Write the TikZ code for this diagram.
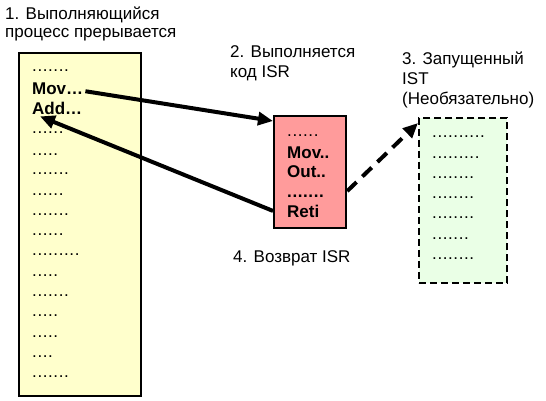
\documentclass[tikz,border=0pt]{standalone}
\usepackage{fontspec}
\setmainfont{Liberation Sans}
\newfontfamily\dotfont[LetterSpace=3.5]{Liberation Sans}
\usetikzlibrary{arrows.meta}
\definecolor{progfill}{RGB}{255,255,204}
\definecolor{isrfill}{RGB}{255,155,155}
\definecolor{istfill}{RGB}{234,255,230}
\begin{document}
\begin{tikzpicture}[x=1pt,y=-1pt,
  lbl/.style={anchor=base west, inner sep=0pt, font=\fontsize{17}{20}\selectfont},
  code/.style={anchor=base west, inner sep=0pt, font=\fontsize{17}{20}\selectfont\bfseries},
  dotrow/.style={anchor=base west, inner sep=0pt, font=\fontsize{17}{20}\selectfont\dotfont},
  bdotrow/.style={anchor=base west, inner sep=0pt, font=\fontsize{17}{20}\selectfont\dotfont\bfseries},
  box/.style={draw, anchor=north west, inner sep=0pt, line width=2.2pt},
  arr/.style={line width=4pt, -{Triangle[length=15pt,width=13pt]}}]
\useasboundingbox (0,0) rectangle (546,401);

% labels
\node[lbl] (l1a) at (5,20) {1. Выполняющийся};
\node[lbl] (l1b) at (5,38) {процесс прерывается};
\node[lbl] (l2a) at (230,58) {2. Выполняется};
\node[lbl] (l2b) at (230,78) {код ISR};
\node[lbl] (l3a) at (402,65) {3. Запущенный};
\node[lbl] (l3b) at (402,85) {IST};
\node[lbl] (l3c) at (402,105) {(Необязательно)};
\node[lbl] (l4) at (233,262) {4. Возврат ISR};

% boxes
\node[box, fill=progfill, minimum width=122pt, minimum height=343pt] (prog) at (18,52) {};
\node[box, fill=isrfill, minimum width=72pt, minimum height=112pt] (isr) at (273,115) {};
\node[box, fill=istfill, line width=2pt, dash pattern=on 7pt off 4pt, minimum width=88pt, minimum height=165pt] (ist) at (418,117) {};

% program contents
\node[dotrow] (p0) at (32,72) {.......};
\node[code] (mov) at (32,95) {Mov…};
\node[code] (add) at (32,115) {Add…};
\node[dotrow] (p1) at (32,134) {......};
\node[dotrow] (p2) at (32,155) {.....};
\node[dotrow] (p3) at (32,175) {.......};
\node[dotrow] (p4) at (32,195) {......};
\node[dotrow] (p5) at (32,215) {.......};
\node[dotrow] (p6) at (32,235) {......};
\node[dotrow] (p7) at (32,255) {.........};
\node[dotrow] (p8) at (32,276) {.....};
\node[dotrow] (p9) at (32,296) {.......};
\node[dotrow] (p10) at (32,316) {.....};
\node[dotrow] (p11) at (32,337) {.....};
\node[dotrow] (p12) at (32,357) {....};
\node[dotrow] (p13) at (32,377) {.......};

% ISR contents
\node[dotrow] (i0) at (287,137) {......};
\node[code] (imov) at (287,158) {Mov..};
\node[code] (iout) at (287,177) {Out..};
\node[bdotrow] (i1) at (287,197) {.......};
\node[code] (reti) at (287,217) {Reti};

% IST contents
\node[dotrow] (t0) at (432,138) {..........};
\node[dotrow] (t1) at (432,158) {.........};
\node[dotrow] (t2) at (432,178) {........};
\node[dotrow] (t3) at (432,198) {........};
\node[dotrow] (t4) at (432,218) {........};
\node[dotrow] (t5) at (432,239) {.......};
\node[dotrow] (t6) at (432,259) {........};

% connectors
\draw[arr] ([xshift=2pt,yshift=-2pt]mov.east) -- ([yshift=-6pt]isr.north west);
\draw[arr] (isr.west |- reti) -- ([xshift=8pt,yshift=-1pt]add.south west);
\draw[arr, dash pattern=on 13pt off 8pt] ([yshift=-19pt]isr.east) -- ([yshift=-6pt]ist.north west);
\end{tikzpicture}
\end{document}
